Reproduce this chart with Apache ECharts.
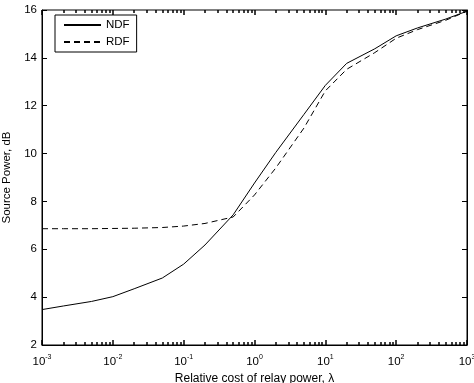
<!DOCTYPE html>
<html>
<head>
<meta charset="utf-8">
<script src="https://cdn.jsdelivr.net/npm/echarts@6/dist/echarts.min.js"></script>
<style>
  html, body { margin: 0; padding: 0; background: #fff; }
  #chart { width: 474px; height: 383px; }
</style>
</head>
<body>
<div id="chart"></div>
<script>
// relative cost of relay power (lambda), sampled 1-2-5 per decade
const lambdas = [0.001, 0.002, 0.005, 0.01, 0.02, 0.05, 0.1, 0.2, 0.5, 1, 2, 5, 10, 20, 50, 100, 200, 500, 1000]
const ndf = [3.48, 3.63, 3.82, 4.02, 4.35, 4.8, 5.38, 6.18, 7.44, 8.77, 10.05, 11.64, 12.85, 13.77, 14.38, 14.92, 15.25, 15.62, 15.95]
const rdf = [6.86, 6.86, 6.86, 6.87, 6.88, 6.91, 6.97, 7.08, 7.35, 8.27, 9.4, 11.07, 12.62, 13.52, 14.22, 14.82, 15.18, 15.57, 15.95]

// box tick positions on the lambda axis
const majorX = [0.001, 0.01, 0.1, 1, 10, 100, 1000]
const minorX = []
majorX.slice(0, -1).forEach(d => {
    for (let k = 2; k <= 9; k++) minorX.push(+(d * k).toPrecision(3))
})

const FONT = 'Liberation Sans, Arial, Helvetica, sans-serif'

const pair = (a, b) => a.map((v, i) => [v, b[i]])

// extra log axes that only draw the inner ticks of the box
const tickAxis = (position, len, values) => ({
    type: 'log',
    min: 0.001,
    max: 1000,
    position: position,
    axisLine: { show: false },
    splitLine: { show: false },
    axisLabel: { show: false },
    axisTick: { show: true, inside: true, length: len, lineStyle: { color: '#000', width: 1.5 }, customValues: values }
})

const chart = echarts.init(document.getElementById('chart'))

chart.setOption({
    animation: false,
    grid: {
        left: 42, right: 7, top: 10, bottom: 38,
        outerBoundsMode: 'none',
        show: true, borderColor: '#000', borderWidth: 1
    },
    legend: {
        left: 55,
        top: 15,
        orient: 'vertical',
        itemWidth: 37,
        itemHeight: 12,
        itemGap: 5,
        padding: [4, 7, 4, 8],
        backgroundColor: '#fff',
        borderColor: '#000',
        borderWidth: 1,
        borderRadius: 0,
        itemStyle: { opacity: 0 },
        textStyle: { fontFamily: FONT, fontSize: 11.5, color: '#000' }
    },
    xAxis: [
        {
            type: 'log',
            min: 0.001,
            max: 1000,
            position: 'bottom',
            axisLine: { show: true, onZero: false, lineStyle: { color: '#000', width: 1 } },
            splitLine: { show: false },
            axisTick: { show: true, inside: true, length: 5, lineStyle: { color: '#000', width: 1.5 } },
            axisLabel: {
                margin: 9,
                formatter: v => '{b|10}{s|' + Math.round(Math.log10(v)) + '}',
                rich: {
                    b: { fontFamily: FONT, fontSize: 11.5, color: '#000', verticalAlign: 'bottom' },
                    s: { fontFamily: FONT, fontSize: 7, color: '#000', verticalAlign: 'bottom', padding: [0, 0, 7, 0] }
                }
            },
            name: 'Relative cost of relay power, λ',
            nameLocation: 'middle',
            nameGap: 18,
            nameTextStyle: { fontFamily: FONT, fontSize: 12, color: '#000' }
        },
        tickAxis('bottom', 3, minorX),
        tickAxis('top', 5, majorX),
        tickAxis('top', 3, minorX)
    ],
    yAxis: [
        {
            type: 'value',
            position: 'left',
            min: 2,
            max: 16,
            interval: 2,
            axisLine: { show: true, onZero: false, lineStyle: { color: '#000', width: 1 } },
            axisTick: { show: true, inside: true, length: 5, lineStyle: { color: '#000' } },
            splitLine: { show: false },
            axisLabel: { fontFamily: FONT, fontSize: 11.5, color: '#000', margin: 5 },
            name: 'Source Power, dB',
            nameLocation: 'middle',
            nameRotate: 90,
            nameGap: 26,
            nameTextStyle: { fontFamily: FONT, fontSize: 11.5, color: '#000' }
        },
        {
            type: 'value',
            position: 'right',
            min: 2,
            max: 16,
            interval: 2,
            axisLine: { show: true, onZero: false, lineStyle: { color: '#000', width: 1 } },
            axisTick: { show: true, inside: true, length: 5, lineStyle: { color: '#000' } },
            splitLine: { show: false },
            axisLabel: { show: false }
        }
    ],
    series: [
        {
            name: 'NDF',
            type: 'line',
            data: pair(lambdas, ndf),
            symbol: 'none',
            lineStyle: { color: '#000', width: 1, type: 'solid' },
            itemStyle: { color: '#000' }
        },
        {
            name: 'RDF',
            type: 'line',
            data: pair(lambdas, rdf),
            symbol: 'none',
            lineStyle: { color: '#000', width: 1, type: [6, 4] },
            itemStyle: { color: '#000' }
        }
    ]
})
</script>
</body>
</html>
